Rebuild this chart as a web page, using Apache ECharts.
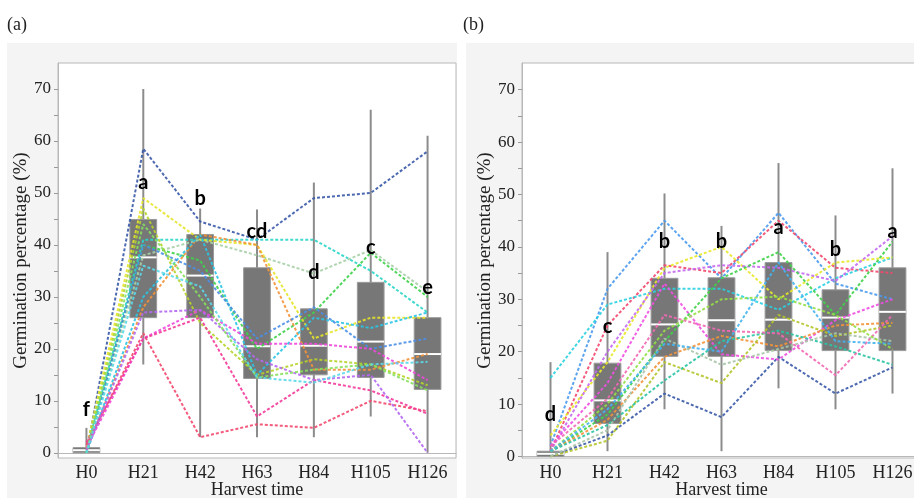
<!DOCTYPE html>
<html>
<head>
<meta charset="utf-8">
<script src="https://cdn.jsdelivr.net/npm/echarts@6/dist/echarts.min.js"></script>
<style>
  html, body { margin: 0; padding: 0; background: #fff; }
  #chart { width: 914px; height: 498px; }
</style>
</head>
<body>
<div id="chart"></div>
<script>
// harvest times on the x axis
var categories = ['H0', 'H21', 'H42', 'H63', 'H84', 'H105', 'H126'];
var yTicks = [0, 10, 20, 30, 40, 50, 60, 70];
var yMinorTicks = [0, 5, 10, 15, 20, 25, 30, 35, 40, 45, 50, 55, 60, 65, 70];

// box stats: [min, q1, median, q3, max]
var boxA = [
  [0, 0, 0.5, 1, 4.8],
  [17, 26, 37.6, 44.9, 70],
  [3, 26, 34.1, 42, 47],
  [3, 14.3, 20.5, 35.6, 46.8],
  [3, 15, 20.6, 27.7, 52],
  [7, 14.5, 21.4, 32.8, 66],
  [0, 12.2, 19, 26, 61]
];
var boxB = [
  [0, 0, 0.5, 1, 18],
  [1, 6.3, 10.7, 17.8, 39],
  [9, 19.1, 25.2, 34, 50.2],
  [1, 19.1, 26, 34.1, 44],
  [13, 20.2, 26.1, 37, 56],
  [9, 20.2, 26.5, 31.8, 46],
  [12, 20.2, 27.6, 36, 55]
];

// significance letters and their heights
var lettersA = ['f', 'a', 'b', 'cd', 'd', 'c', 'e'];
var letterYA = [8.3, 52, 49, 42.6, 34.7, 39.5, 31.8];
var lettersB = ['d', 'c', 'b', 'b', 'a', 'b', 'a'];
var letterYB = [8, 24.8, 41, 41, 43.7, 39.5, 43];

// individual lines, panel (a)
var linesA = [
  [0, 58.5, 44.5, 41, 49, 50, 58],
  [0.5, 41, 41, 41, 41, 35, 27],
  [0, 38, 41, 38, 34.5, 39, 31],
  [0, 40, 37, 20, 27, 38.5, 30],
  [1, 49, 41, 40, 22, 26, 26],
  [0, 47, 25, 15, 18, 17, 13],
  [0.5, 28, 42, 40, 16, 16, 19],
  [0, 30, 42, 15, 26, 24, 27],
  [0, 40, 35, 22, 28, 20, 22],
  [1, 22, 27.5, 21, 21, 20, 14],
  [1.5, 23, 3, 5.5, 4.8, 10, 8],
  [2, 22, 26, 7, 14, 12, 7.5],
  [0.5, 27, 27.5, 18, 14, 15, 0],
  [0, 44, 30, 14.5, 16, 17, 12],
  [0, 36, 32, 14.5, 13.5, 17, 17.5]
];
// individual lines, panel (b)
var linesB = [
  [0, 4, 12, 7.5, 19, 12, 17],
  [2, 32, 45, 34, 46.5, 33, 30],
  [1, 25, 36.5, 35, 45, 36, 35],
  [15, 29, 32, 32, 28, 34, 38],
  [4, 18, 36, 40, 30, 37, 38],
  [1, 20, 35, 36.5, 36, 33.5, 42],
  [2, 14, 33, 19.5, 18.5, 26, 30],
  [1, 8, 22, 34, 39, 27, 41],
  [1, 7, 19, 23, 21, 25, 25.5],
  [0, 3, 18, 14, 27, 23, 25],
  [1, 6, 14.5, 22, 24, 21, 17.5],
  [0, 5, 22.5, 17.5, 20.5, 23.5, 22],
  [2, 11, 27, 24, 23.5, 15.5, 27],
  [1, 10, 24, 30, 30.5, 27, 20.5],
  [1, 9, 21.5, 20, 37, 22, 21.5]
];

var colorsA = ['#3a5aa8', '#2ad6c8', '#a8cfa8', '#3fd24a', '#e4e42a', '#b4d42a', '#f3923a',
  '#2ac4e4', '#4a8ee6', '#ee48dc', '#f2486e', '#f23a9a', '#b468f0', '#86e05e', '#5ad8e8'];
var colorsB = ['#3a5aa8', '#4a9aee', '#f2486e', '#2ad0e0', '#e8e82a', '#c468f0', '#f04ee2',
  '#3fd24a', '#f3923a', '#b4c42a', '#2ac4a4', '#a8c4a8', '#f268b4', '#94e046', '#44b4f0'];

var serif = 'Liberation Serif';

var chart = echarts.init(document.getElementById('chart'));

function renderBox(params, api) {
  var x = api.value(0);
  var lo = api.coord([x, api.value(1)]);
  var q1 = api.coord([x, api.value(2)]);
  var md = api.coord([x, api.value(3)]);
  var q3 = api.coord([x, api.value(4)]);
  var hi = api.coord([x, api.value(5)]);
  var w = api.size([1, 0])[0] * 0.47;
  return {
    type: 'group',
    children: [
      { type: 'line', shape: { x1: lo[0], y1: lo[1], x2: hi[0], y2: hi[1] },
        style: { stroke: '#8c8c8c', lineWidth: 2 } },
      { type: 'rect', shape: { x: q3[0] - w / 2, y: q3[1], width: w, height: q1[1] - q3[1] },
        style: { fill: '#777777', stroke: '#9a9a9a', lineWidth: 1 } },
      { type: 'line', shape: { x1: md[0] - w / 2, y1: md[1], x2: md[0] + w / 2, y2: md[1] },
        style: { stroke: '#ffffff', lineWidth: 2 } }
    ]
  };
}

function boxData(stats) {
  return stats.map(function (s, i) { return [i].concat(s); });
}

function xAxisFor(idx) {
  return {
    type: 'category', gridIndex: idx, data: categories,
    axisLine: { lineStyle: { color: '#b8b8b8' } },
    axisTick: { show: false },
    axisLabel: { color: '#222', fontFamily: serif, fontSize: 18, margin: 6 },
    name: 'Harvest time', nameLocation: 'middle', nameGap: 23, nameMoveOverlap: false,
    nameTextStyle: { color: '#222', fontFamily: serif, fontSize: 18 }
  };
}

function yAxisFor(idx, min, max) {
  return {
    type: 'value', gridIndex: idx, min: min, max: max,
    splitLine: { show: false },
    axisLine: { show: true, lineStyle: { color: '#b8b8b8' } },
    axisTick: { show: true, customValues: yMinorTicks, length: 4, lineStyle: { color: '#999' } },
    axisLabel: { customValues: yTicks, color: '#222', fontFamily: serif, fontSize: 17, margin: 7 },
    name: 'Germination percentage (%)', nameLocation: 'middle', nameGap: 26,
    nameTextStyle: { color: '#222', fontFamily: serif, fontSize: 19 }
  };
}

var series = [];
[[boxA, linesA, colorsA, lettersA, letterYA], [boxB, linesB, colorsB, lettersB, letterYB]].forEach(function (p, idx) {
  series.push({
    type: 'custom', xAxisIndex: idx, yAxisIndex: idx, z: 2,
    renderItem: renderBox,
    encode: { x: 0, y: [1, 2, 3, 4, 5] },
    data: boxData(p[0])
  });
  p[1].forEach(function (vals, k) {
    series.push({
      type: 'line', xAxisIndex: idx, yAxisIndex: idx, z: 3,
      data: vals, symbol: 'none', silent: true,
      lineStyle: { color: p[2][k], width: 2, type: [3, 2], opacity: 0.9 }
    });
  });
  var labels = p[3];
  series.push({
    type: 'scatter', xAxisIndex: idx, yAxisIndex: idx, z: 5,
    symbolSize: 1, itemStyle: { color: 'rgba(0,0,0,0)' },
    data: p[4].map(function (v, i) { return [i, v]; }),
    label: {
      show: true, position: 'inside', color: '#000', opacity: 1,
      fontFamily: 'Lato', fontWeight: 'bold', fontSize: 20,
      formatter: function (d) { return labels[d.dataIndex]; }
    }
  });
});

chart.setOption({
  animation: false,
  backgroundColor: '#ffffff',
  graphic: [
    { type: 'rect', shape: { x: 7, y: 43, width: 450, height: 455 }, style: { fill: '#f4f4f4' }, z: -10 },
    { type: 'rect', shape: { x: 466, y: 43, width: 448, height: 455 }, style: { fill: '#f4f4f4' }, z: -10 },
    { type: 'text', left: 7, top: 16, style: { text: '(a)', font: '18px "Liberation Serif"', fill: '#222' } },
    { type: 'text', left: 463, top: 16, style: { text: '(b)', font: '18px "Liberation Serif"', fill: '#222' } }
  ],
  grid: [
    { left: 58, top: 63, width: 398, height: 395, outerBoundsMode: 'none', show: true, backgroundColor: '#fff', borderColor: '#b8b8b8', borderWidth: 1 },
    { left: 522, top: 63, width: 399, height: 395, outerBoundsMode: 'none', show: true, backgroundColor: '#fff', borderColor: '#b8b8b8', borderWidth: 1 }
  ],
  xAxis: [xAxisFor(0), xAxisFor(1)],
  yAxis: [yAxisFor(0, -1, 75), yAxisFor(1, -0.3, 75.1)],
  series: series
});
</script>
</body>
</html>
